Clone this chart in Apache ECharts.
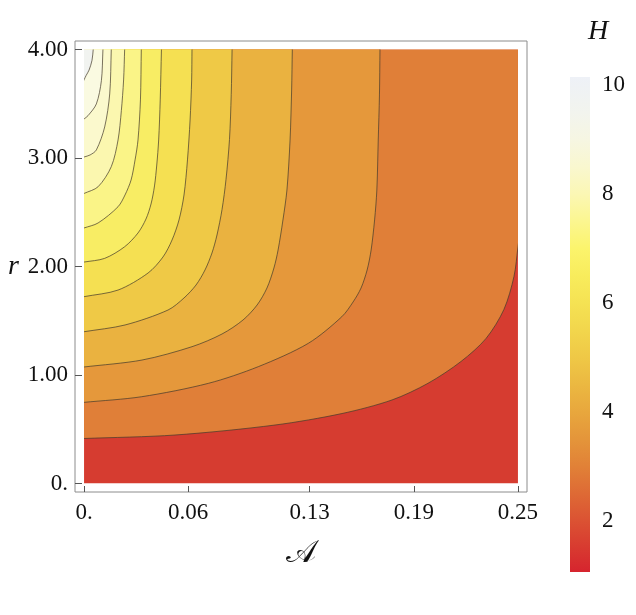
<!DOCTYPE html>
<html>
<head>
<meta charset="utf-8">
<title>H over A and r</title>
<style>
  html, body { margin: 0; padding: 0; background: #fff; }
  #chart { width: 636px; height: 615px; }
</style>
</head>
<body>
<div id="chart"></div>
<script src="https://cdn.jsdelivr.net/npm/echarts@6/dist/echarts.min.js"></script>
<script>
// contour lines as [A, r], each one starting on the left edge
const c0 = [[0, 0.415], [0.0524, 0.447], [0.110, 0.539], [0.1486, 0.645], [0.1774, 0.77], [0.1982, 0.924],
  [0.2172, 1.125], [0.2316, 1.337], [0.2419, 1.604], [0.2477, 1.908], [0.25, 2.18]];
const c1 = [[0, 0.748], [0.0332, 0.80], [0.0716, 0.923], [0.1004, 1.077], [0.1292, 1.292], [0.1485, 1.537],
  [0.155, 1.673], [0.1596, 1.802], [0.1631, 1.968], [0.1654, 2.152], [0.1674, 2.429], [0.1687, 2.705],
  [0.1695, 3.166], [0.1702, 3.581], [0.1705, 4]];
const c2 = [[0, 1.074], [0.0334, 1.138], [0.0622, 1.261], [0.0795, 1.378], [0.0916, 1.507], [0.0997, 1.645],
  [0.1054, 1.802], [0.1094, 1.986], [0.1118, 2.152], [0.1146, 2.429], [0.1169, 2.705], [0.1187, 3.166],
  [0.1196, 3.627], [0.12, 4]];
const c3 = [[0, 1.399], [0.0236, 1.461], [0.0484, 1.599], [0.0576, 1.71], [0.0645, 1.829], [0.0697, 1.968],
  [0.0737, 2.124], [0.0766, 2.29], [0.0795, 2.525], [0.0818, 2.802], [0.0838, 3.171], [0.0848, 3.585], [0.0853, 4]];
const c4 = [[0, 1.722], [0.0196, 1.783], [0.0369, 1.94], [0.0455, 2.088], [0.0507, 2.244], [0.0547, 2.428],
  [0.0576, 2.659], [0.0596, 2.982], [0.0611, 3.35], [0.062, 3.719], [0.0622, 4]];
const c5 = [[0, 2.041], [0.0119, 2.075], [0.0234, 2.182], [0.0311, 2.309], [0.0357, 2.438], [0.0386, 2.576],
  [0.0406, 2.742], [0.0419, 2.935], [0.043, 3.166], [0.0439, 3.535], [0.0446, 4]];
const c6 = [[0, 2.355], [0.0081, 2.401], [0.0196, 2.551], [0.0236, 2.659], [0.0271, 2.797], [0.0294, 2.982],
  [0.0311, 3.166], [0.0325, 3.535], [0.033, 4]];
const c7 = [[0, 2.673], [0.0081, 2.735], [0.0157, 2.92], [0.0196, 3.166], [0.0215, 3.436], [0.0228, 3.719], [0.0234, 4]];
const c8 = [[0, 3.009], [0.0035, 3.028], [0.0071, 3.074], [0.0119, 3.286], [0.0148, 3.59], [0.0157, 4]];
const c9 = [[0, 3.359], [0.0023, 3.39], [0.0071, 3.498], [0.0100, 3.712], [0.0109, 4]];
const c10 = [[0, 3.72], [0.0012, 3.76], [0.0029, 3.81], [0.0046, 3.90], [0.0053, 4]];
const contours = [c0, c1, c2, c3, c4, c5, c6, c7, c8, c9, c10];

// fill of each band, lowest (bottom right) to highest (top left corner)
const bandColors = ['#d63c30', '#e07f38', '#e5983b', '#eab240', '#efc946', '#f5e052',
  '#f8ed64', '#faf487', '#fbf7af', '#fbf9cd', '#fafae1', '#f1f3f0'];

const xTicks = [0, 0.06, 0.13, 0.19, 0.25];
const yTicks = [0, 1, 2, 3, 4];
const hMin = 1.06, hMax = 10.15;
const barLabels = [2, 4, 6, 8, 10];
const barTicks = [1.5, 2, 2.5, 3, 3.5, 4, 4.5, 5, 5.5, 6, 6.5, 7, 7.5, 8, 8.5, 9, 9.5, 10];
const barStops = [[1.06, '#d6242e'], [1.5, '#d83a30'], [2, '#db5233'], [2.5, '#de6a35'], [3, '#e18137'],
  [3.5, '#e4953a'], [4, '#e8a73d'], [4.5, '#ebb841'], [5, '#efc846'], [5.5, '#f2d64c'], [6, '#f5e253'],
  [6.5, '#f8ec5c'], [7, '#fbf46c'], [7.5, '#fbf690'], [8, '#fbf7b4'], [8.5, '#f9f7cf'], [9, '#f6f6e2'],
  [9.5, '#f2f4ee'], [10.15, '#eef1f7']];

const A0 = 0, A1 = 0.25, R0 = 0, R1 = 4;
const serif = '"Liberation Serif", "DejaVu Serif", serif';
const tickFmt = v => v === 0 ? '0.' : v.toFixed(2);

// the contour carried one step further past each end along its own direction,
// so the smoothing at the plot edges happens outside the clip
function extended(c) {
  const f = c[0], s = c[1], p = c[c.length - 2], l = c[c.length - 1];
  const start = [2 * f[0] - s[0], 2 * f[1] - s[1]];
  const end = [2 * l[0] - p[0], 2 * l[1] - p[1]];
  return [start].concat(c, [end]);
}
function bandPoly(k) {
  if (k === 0) return [[A0, R0], [A1, R0], [A1, R1], [A0, R1]];
  const c = contours[k - 1];
  const pts = extended(c);
  if (c[c.length - 1][1] < R1) pts.push([A1 + 0.01, R1 + 0.15]);
  pts.push([A0 - 0.01, R1 + 0.15]);
  return pts;
}
function plotClip(api) {
  const p = api.coord([A0, R1]), q = api.coord([A1, R0]);
  return { type: 'rect', shape: { x: p[0], y: p[1], width: q[0] - p[0], height: q[1] - p[1] } };
}

const chart = echarts.init(document.getElementById('chart'));
chart.setOption({
  backgroundColor: '#fff',
  animation: false,
  title: {
    text: 'H', left: 583, top: 13,
    textStyle: { fontFamily: serif, fontStyle: 'italic', fontWeight: 'normal', fontSize: 28, color: '#111' }
  },
  grid: [
    { left: 75, top: 41, width: 452, height: 451, show: true, borderColor: '#8c8c8c', borderWidth: 1, backgroundColor: '#fff' },
    { left: 570, top: 77, width: 20, height: 495 }
  ],
  xAxis: [{
    type: 'value', gridIndex: 0, min: -0.0052, max: 0.2552,
    name: '𝒜', nameLocation: 'middle', nameGap: 46,
    nameTextStyle: { fontFamily: serif, fontSize: 32, color: '#111' },
    axisLine: { show: false, onZero: false },
    axisTick: { customValues: xTicks, inside: true, length: 6, lineStyle: { color: '#555' } },
    axisLabel: { customValues: xTicks, formatter: tickFmt, margin: 9, fontFamily: serif, fontSize: 23, color: '#111' },
    splitLine: { show: false }
  }, {
    type: 'value', gridIndex: 1, min: 0, max: 1, show: false
  }],
  yAxis: [{
    type: 'value', gridIndex: 0, min: -0.078, max: 4.078,
    name: 'r', nameLocation: 'middle', nameRotate: 0, nameGap: 56,
    nameTextStyle: { fontFamily: serif, fontStyle: 'italic', fontSize: 28, color: '#111' },
    axisLine: { show: false, onZero: false },
    axisTick: { customValues: yTicks, inside: true, length: 7, lineStyle: { color: '#555' } },
    axisLabel: { customValues: yTicks, formatter: tickFmt, margin: 7, fontFamily: serif, fontSize: 23, color: '#111' },
    splitLine: { show: false }
  }, {
    type: 'value', gridIndex: 1, min: hMin, max: hMax, position: 'right',
    axisLine: { show: false },
    axisTick: { customValues: barTicks, length: 4, lineStyle: { color: '#cfcfcf' } },
    axisLabel: { customValues: barLabels, margin: 12, fontFamily: serif, fontSize: 23, color: '#111' },
    splitLine: { show: false }
  }],
  series: [{
    type: 'custom', name: 'bands', xAxisIndex: 0, yAxisIndex: 0,
    data: bandColors.map((c, i) => [i]),
    renderItem(params, api) {
      const k = api.value(0);
      return {
        type: 'polygon',
        shape: { points: bandPoly(k).map(p => api.coord(p)), smooth: k === 0 ? 0 : 0.3 },
        style: { fill: bandColors[k], stroke: null },
        clipPath: plotClip(api)
      };
    }
  }, {
    type: 'custom', name: 'contours', xAxisIndex: 0, yAxisIndex: 0,
    data: contours.map((c, i) => [i]),
    renderItem(params, api) {
      const k = api.value(0);
      return {
        type: 'polyline',
        shape: { points: extended(contours[k]).map(p => api.coord(p)), smooth: 0.3 },
        style: { fill: null, stroke: 'rgba(70,60,45,0.8)', lineWidth: 0.9 },
        clipPath: plotClip(api)
      };
    }
  }, {
    type: 'custom', name: 'colorbar', xAxisIndex: 1, yAxisIndex: 1,
    data: [[0, hMin, 1, hMax]],
    renderItem(params, api) {
      const p = api.coord([api.value(0), api.value(3)]);
      const q = api.coord([api.value(2), api.value(1)]);
      const stops = barStops.map(s => ({ offset: (s[0] - hMin) / (hMax - hMin), color: s[1] }));
      return {
        type: 'rect',
        shape: { x: p[0], y: p[1], width: q[0] - p[0], height: q[1] - p[1] },
        style: { fill: new echarts.graphic.LinearGradient(0, 1, 0, 0, stops) }
      };
    }
  }]
});
</script>
</body>
</html>
